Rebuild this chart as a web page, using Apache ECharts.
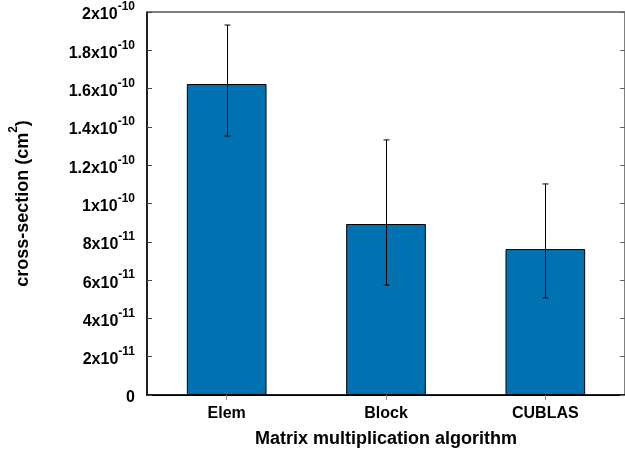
<!DOCTYPE html>
<html>
<head>
<meta charset="utf-8">
<script src="https://cdn.jsdelivr.net/npm/echarts@6/dist/echarts.min.js"></script>
<style>html,body{margin:0;padding:0;background:#fff}#c{width:625px;height:453px}</style>
</head>
<body>
<div id="c"></div>
<script>
var categories = ['Elem', 'Block', 'CUBLAS'];
var values = [1.624e-10, 0.893e-10, 0.762e-10];
var errLow = [1.352e-10, 0.574e-10, 0.507e-10];
var errHigh = [1.932e-10, 1.332e-10, 1.102e-10];
var yTickValues = [0, 2e-11, 4e-11, 6e-11, 8e-11, 1e-10, 1.2e-10, 1.4e-10, 1.6e-10, 1.8e-10, 2e-10];
var yTickMantissa = ['0', '2', '4', '6', '8', '1', '1.2', '1.4', '1.6', '1.8', '2'];
var yTickExp = ['', '-11', '-11', '-11', '-11', '-10', '-10', '-10', '-10', '-10', '-10'];

var FONT = '"Liberation Sans", Arial, sans-serif';

function yLabel(v) {
  var best = 0, bd = Infinity;
  for (var i = 0; i < yTickValues.length; i++) {
    var d = Math.abs(yTickValues[i] - v);
    if (d < bd) { bd = d; best = i; }
  }
  if (yTickExp[best] === '') return '{b|' + yTickMantissa[best] + '}';
  return '{b|' + yTickMantissa[best] + 'x10}{s|' + yTickExp[best] + '}';
}

var chart = echarts.init(document.getElementById('c'), null, {renderer: 'canvas'});
var errData = categories.map(function (c, i) { return [i, errLow[i], errHigh[i]]; });

chart.setOption({
  animation: false,
  backgroundColor: '#fff',
  grid: {left: 146, top: 12, width: 480, height: 383, show: true, borderColor: '#000', borderWidth: 1, backgroundColor: 'transparent'},
  xAxis: [{
    type: 'category',
    data: categories,
    position: 'bottom',
    axisLine: {show: true, lineStyle: {color: '#000', width: 1.5}},
    axisTick: {show: false},
    axisLabel: {color: '#000', fontFamily: FONT, fontWeight: 'bold', fontSize: 16, margin: 11},
    name: 'Matrix multiplication algorithm',
    nameLocation: 'middle',
    nameGap: 35,
    nameTextStyle: {color: '#000', fontFamily: FONT, fontWeight: 'bold', fontSize: 18}
  }, {
    type: 'category',
    data: categories,
    position: 'top',
    axisLine: {show: true, lineStyle: {color: '#000', width: 1}},
    axisTick: {show: true, inside: true, alignWithLabel: true, length: 5, lineStyle: {color: '#888'}},
    axisLabel: {show: false}
  }],
  yAxis: [{
    type: 'value',
    min: 0, max: 2e-10, interval: 2e-11,
    axisLine: {show: true, lineStyle: {color: '#000', width: 1.5}},
    axisTick: {show: true, inside: true, length: 5, lineStyle: {color: '#444'}},
    splitLine: {show: false},
    axisLabel: {
      margin: 12,
      formatter: yLabel,
      rich: {
        b: {color: '#000', fontFamily: FONT, fontWeight: 'bold', fontSize: 16, verticalAlign: 'bottom', lineHeight: 22},
        s: {color: '#000', fontFamily: FONT, fontWeight: 'bold', fontSize: 12, verticalAlign: 'top', lineHeight: 22}
      }
    },
    name: '{a|cross-section (cm}{s|2}{a|)}',
    nameLocation: 'middle',
    nameGap: 115,
    nameRotate: 90,
    nameTextStyle: {
      rich: {
        a: {color: '#000', fontFamily: FONT, fontWeight: 'bold', fontSize: 18, verticalAlign: 'bottom', lineHeight: 24},
        s: {color: '#000', fontFamily: FONT, fontWeight: 'bold', fontSize: 12, verticalAlign: 'top', lineHeight: 24}
      }
    }
  }, {
    type: 'value',
    position: 'right',
    min: 0, max: 2e-10, interval: 2e-11,
    axisLine: {show: false},
    axisTick: {show: true, inside: true, length: 5, lineStyle: {color: '#666'}},
    axisLabel: {show: false},
    splitLine: {show: false}
  }],
  series: [{
    type: 'bar',
    data: values,
    barWidth: '50%',
    itemStyle: {color: '#0072b2', borderColor: '#000', borderWidth: 1},
    z: 2
  }, {
    type: 'custom',
    data: errData,
    z: 5,
    renderItem: function (params, api) {
      var i = api.value(0);
      var lo = api.coord([i, api.value(1)]);
      var hi = api.coord([i, api.value(2)]);
      var x = Math.round(lo[0]) + 0.5;
      var cap = 3;
      var st = {stroke: '#000', lineWidth: 1};
      return {
        type: 'group',
        children: [
          {type: 'line', shape: {x1: x, y1: hi[1], x2: x, y2: lo[1]}, style: st},
          {type: 'line', shape: {x1: x - cap, y1: hi[1], x2: x + cap, y2: hi[1]}, style: st},
          {type: 'line', shape: {x1: x - cap, y1: lo[1], x2: x + cap, y2: lo[1]}, style: st}
        ]
      };
    }
  }]
});
</script>
</body>
</html>
